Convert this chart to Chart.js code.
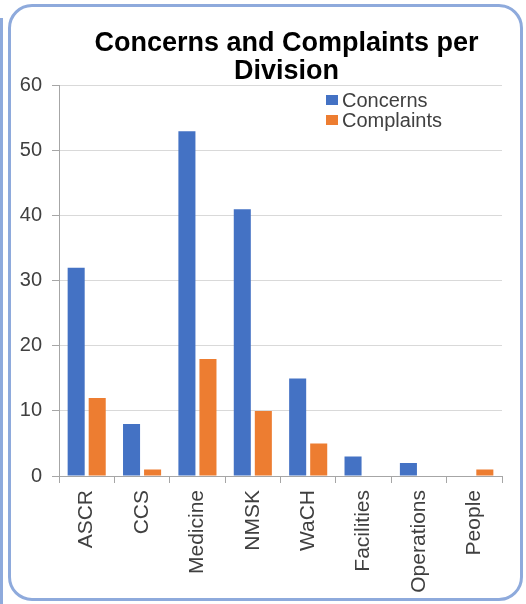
<!DOCTYPE html>
<html>
<head>
<meta charset="utf-8">
<script src="https://cdn.jsdelivr.net/npm/chart.js@4/dist/chart.umd.min.js"></script>
<style>
  html, body { margin: 0; padding: 0; background: #fff; }
  #wrap { position: relative; width: 526px; height: 604px; overflow: hidden; }
  .frame {
    position: absolute; left: 8px; top: 4px; width: 515px; height: 597px;
    box-sizing: border-box; border: 3px solid #8EAADC; border-radius: 24px;
  }
  .edge {
    position: absolute; left: 0; top: 18px; width: 3px; height: 586px;
    background: #8EAADC;
  }
  #chart { position: absolute; left: 0; top: 0; }
</style>
</head>
<body>
<div id="wrap">
  <div class="edge"></div>
  <div class="frame"></div>
  <canvas id="chart" width="526" height="604"></canvas>
</div>
<script>
const FONT = "'Liberation Sans', Arial, sans-serif";

const divisions  = ['ASCR', 'CCS', 'Medicine', 'NMSK', 'WaCH', 'Facilities', 'Operations', 'People'];
const concerns   = [32, 8, 53, 41, 15, 3, 2, 0];
const complaints = [12, 1, 18, 10, 5, 0, 0, 1];
const yTicks     = [0, 10, 20, 30, 40, 50, 60];

const BLUE   = '#4472C4';
const ORANGE = '#ED7D31';
const AXIS   = '#A6A6A6';
const GRID   = '#D9D9D9';

// legende dessinee dans la zone du graphique, en haut a droite
const plotLegend = {
  id: 'plotLegend',
  afterLayout(chart, args, opts) {
    // le titre est un peu decale vers la droite
    const t = chart.titleBlock;
    if (t) { t.left += opts.titleShift; t.right += opts.titleShift; }
  },
  afterDatasetsDraw(chart, args, opts) {
    const ctx = chart.ctx;
    ctx.save();
    ctx.font = '20px ' + FONT;
    ctx.textBaseline = 'middle';
    chart.data.datasets.forEach((ds, i) => {
      const y = opts.y + i * opts.row;
      ctx.fillStyle = ds.backgroundColor;
      ctx.fillRect(opts.x, y - 5, 12, 10);
      ctx.fillStyle = '#404040';
      ctx.fillText(ds.label, opts.x + 16, y + 1);
    });
    ctx.restore();
  }
};

new Chart(document.getElementById('chart'), {
  type: 'bar',
  data: {
    labels: divisions,
    datasets: [
      { label: 'Concerns',   data: concerns,   backgroundColor: BLUE },
      { label: 'Complaints', data: complaints, backgroundColor: ORANGE },
    ],
  },
  options: {
    responsive: false,
    animation: false,
    datasets: { bar: { categoryPercentage: 0.76, barPercentage: 0.81 } },
    layout: { padding: { left: 14, right: 24, top: 20, bottom: 10 } },
    plugins: {
      legend: { display: false },
      tooltip: { enabled: false },
      title: {
        display: true,
        fullSize: false,
        text: ['Concerns and Complaints per', 'Division'],
        color: '#000',
        font: { family: FONT, size: 27, weight: 'bold', lineHeight: 1.05 },
        padding: { top: 9, bottom: 0 },
      },
      plotLegend: { x: 326, y: 100, row: 20, titleShift: 6 },
    },
    scales: {
      x: {
        afterFit: (s) => { s.height = 118; },
        grid: { offset: true, drawOnChartArea: false, tickLength: 7, color: AXIS },
        border: { color: AXIS },
        ticks: {
          color: '#404040', padding: 7, minRotation: 90, maxRotation: 90,
          font: { family: FONT, size: 21 },
        },
      },
      y: {
        min: 0, max: 60,
        afterFit: (s) => { s.width = 45; },
        afterBuildTicks: (s) => { s.ticks = yTicks.map(v => ({ value: v })); },
        grid: { color: GRID, tickColor: AXIS, tickLength: 7 },
        border: { color: AXIS },
        ticks: { color: '#404040', padding: 10, font: { family: FONT, size: 20 } },
      },
    },
  },
  plugins: [plotLegend],
});
</script>
</body>
</html>
